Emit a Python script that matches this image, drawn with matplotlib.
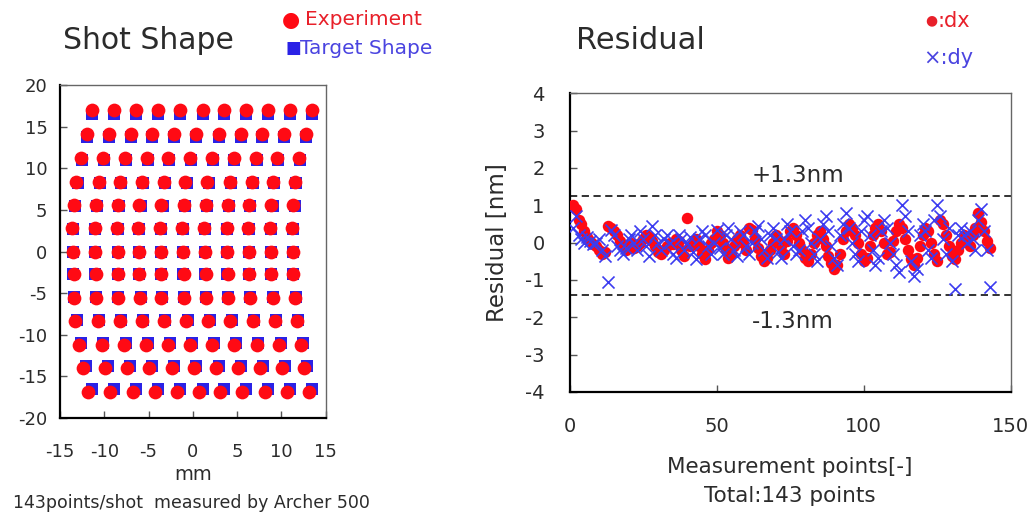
import numpy as np
import matplotlib
matplotlib.use("Agg")
import matplotlib.pyplot as plt

plt.rcParams['font.family'] = ['DejaVu Sans']
plt.rcParams['axes.unicode_minus'] = False

# target grid: 13 rows x 11 columns (mm)
row_y = [16.5, 13.75, 11.0, 8.25, 5.5, 2.75, 0.0, -2.75, -5.5, -8.25, -11.0, -13.75, -16.5]
target_x = [
    [-11.4, -8.9, -6.4, -3.9, -1.4, 1.1, 3.5, 6.0, 8.5, 11.0, 13.5],
    [-12.0, -9.5, -7.0, -4.6, -2.1, 0.4, 2.9, 5.4, 7.8, 10.3, 12.8],
    [-12.5, -10.0, -7.6, -5.1, -2.7, -0.2, 2.3, 4.7, 7.2, 9.6, 12.1],
    [-13.0, -10.5, -8.1, -5.6, -3.1, -0.7, 1.8, 4.3, 6.8, 9.2, 11.7],
    [-13.3, -10.8, -8.3, -5.9, -3.4, -0.9, 1.6, 4.1, 6.5, 9.0, 11.5],
    [-13.5, -11.0, -8.5, -6.1, -3.6, -1.1, 1.4, 3.9, 6.3, 8.8, 11.3],
    [-13.5, -11.0, -8.5, -6.1, -3.6, -1.1, 1.4, 3.9, 6.3, 8.8, 11.3],
    [-13.5, -11.0, -8.5, -6.1, -3.6, -1.1, 1.4, 3.9, 6.3, 8.8, 11.3],
    [-13.4, -10.9, -8.4, -5.9, -3.5, -1.0, 1.5, 4.0, 6.5, 9.1, 11.6],
    [-13.1, -10.6, -8.1, -5.6, -3.1, -0.6, 1.9, 4.4, 6.9, 9.4, 11.9],
    [-12.6, -10.1, -7.6, -5.1, -2.6, -0.1, 2.4, 4.9, 7.4, 9.9, 12.4],
    [-12.1, -9.6, -7.1, -4.6, -2.1, 0.4, 2.9, 5.4, 7.9, 10.4, 12.9],
    [-11.4, -8.9, -6.4, -3.9, -1.4, 1.1, 3.5, 6.0, 8.5, 11.0, 13.5],
]
# measured shot offset from target per row (exaggerated, mm)
exp_off_x = [0.0, 0.0, -0.1, -0.15, -0.15, -0.1, 0.0, 0.05, -0.05, -0.15, -0.2, -0.3, -0.4]
exp_off_y = [0.45, 0.35, 0.2, 0.15, 0.1, 0.05, 0.0, 0.0, -0.05, -0.1, -0.2, -0.25, -0.35]

# residuals (nm), points 1..143
dx = [1.0, 0.9, 0.6, 0.5, 0.3, 0.15, 0.05, -0.05, -0.1, -0.2, -0.3,
      -0.25, 0.45, 0.4, 0.3, 0.2, 0.05, -0.1, -0.2, -0.1, 0.0, -0.15,
      -0.1, 0.0, 0.1, 0.2, 0.15, 0.05, -0.1, -0.25, -0.3, -0.2, -0.1,
      0.0, -0.05, 0.1, 0.05, -0.2, -0.35, 0.65, -0.1, 0.0, 0.1, -0.1,
      -0.3, -0.45, -0.2, 0.0, 0.1, 0.3, 0.2, 0.0, -0.2, -0.4, -0.3,
      -0.1, 0.1, 0.2, 0.0, -0.2, 0.4, 0.35, 0.1, -0.15, -0.35, -0.5,
      -0.4, -0.2, 0.0, 0.2, 0.1, -0.1, -0.3, 0.05, 0.3, 0.4, 0.2,
      0.0, -0.2, -0.4, -0.5, -0.3, 0.0, 0.2, 0.3, 0.1, -0.1, -0.35,
      -0.55, -0.7, -0.6, -0.3, 0.1, 0.3, 0.5, 0.4, 0.2, 0.0, -0.3,
      -0.5, -0.4, -0.1, 0.2, 0.4, 0.5, 0.3, 0.0, -0.3, -0.25, 0.05,
      0.3, 0.5, 0.4, 0.1, -0.2, -0.45, -0.6, -0.4, -0.1, 0.2, 0.4,
      0.3, 0.0, -0.3, -0.5, 0.6, 0.5, 0.2, -0.1, -0.35, -0.45, -0.2,
      0.0, 0.2, 0.1, -0.1, 0.2, 0.4, 0.8, 0.55, 0.3, 0.05, -0.15]
dy = [0.4, 0.7, 0.2, 0.1, 0.0, 0.15, 0.05, -0.05, 0.0, 0.1, -0.2,
      -0.35, -1.05, 0.35, 0.2, -0.1, -0.2, -0.3, -0.15, 0.1, 0.2, 0.0,
      -0.2, 0.3, 0.1, -0.1, -0.35, 0.45, 0.2, 0.0, -0.2, 0.1, 0.2,
      0.0, -0.3, -0.4, 0.2, 0.1, -0.2, 0.0, 0.15, -0.25, -0.45, 0.1,
      0.3, 0.2, -0.1, -0.3, 0.0, 0.35, -0.15, -0.3, 0.2, 0.4, 0.1,
      -0.2, -0.35, 0.3, 0.2, -0.1, -0.3, 0.0, 0.3, 0.45, 0.1, -0.2,
      -0.4, 0.2, 0.4, 0.1, -0.25, -0.4, 0.1, 0.5, 0.3, -0.1, -0.3,
      -0.2, 0.3, 0.6, 0.4, 0.0, -0.3, -0.5, 0.1, 0.5, 0.7, 0.3,
      -0.1, -0.4, -0.6, 0.2, 0.5, 0.8, 0.4, 0.0, -0.3, -0.5, 0.3,
      0.6, 0.7, 0.2, -0.2, -0.6, -0.4, 0.3, 0.6, 0.4, 0.0, -0.3,
      -0.6, -0.8, 1.0, 0.7, 0.3, -0.5, -0.9, -0.7, 0.2, 0.5, 0.3,
      -0.2, -0.4, 0.6, 1.0, 0.7, 0.1, -0.3, 0.4, -0.5, -1.25, 0.2,
      0.4, 0.2, 0.0, 0.3, 0.1, -0.2, 0.6, 0.9, 0.3, -0.2, -1.2]
upper_limit = 1.25
lower_limit = -1.4

RED = '#ff0a14'
BLUE = '#2a22e6'
TXT = '#2b2b2b'

fig = plt.figure(figsize=(10.34, 5.17), dpi=100)

def style_axes(ax):
    ax.spines['left'].set_linewidth(1.6)
    ax.spines['bottom'].set_linewidth(1.6)
    for s in ['top', 'right']:
        ax.spines[s].set_color('#666666')
        ax.spines[s].set_linewidth(1.0)
    ax.tick_params(direction='in', length=5, width=1, colors='#555555',
                   labelcolor=TXT, labelsize=13, pad=10)

# ---- Shot Shape ----
ax1 = fig.add_axes([0.058, 0.1915, 0.257, 0.644])
tx = np.array(target_x)
ty = np.repeat(np.array(row_y)[:, None], 11, axis=1)
ex = tx + np.array(exp_off_x)[:, None]
ey = ty + np.array(exp_off_y)[:, None]
ax1.scatter(tx.ravel(), ty.ravel(), marker='s', s=80, color=BLUE, lw=0, zorder=2)
ax1.scatter(ex.ravel(), ey.ravel(), marker='o', s=98, color=RED, lw=0, zorder=3)
ax1.set_xlim(-15, 15)
ax1.set_ylim(-20, 20)
ax1.set_xticks(range(-15, 16, 5))
ax1.set_yticks(range(-20, 21, 5))
style_axes(ax1)
ax1.tick_params(axis='x', pad=18)
ax1.tick_params(axis='y', pad=9)
ax1.set_xlabel('mm', fontsize=14, color=TXT, labelpad=3)

fig.text(0.061, 0.922, 'Shot Shape', fontsize=21.5, color=TXT, va='center')
fig.text(0.273, 0.962, '●', fontsize=15, color=RED, va='center')
fig.text(0.295, 0.962, 'Experiment', fontsize=14.5, color='#e8202a', va='center')
fig.text(0.276, 0.907, '■', fontsize=12, color=BLUE, va='center')
fig.text(0.29, 0.907, 'Target Shape', fontsize=14.5, color='#4a44e0', va='center')
fig.text(0.013, 0.027, '143points/shot  measured by Archer 500', fontsize=12.5,
         color=TXT, va='center')

# ---- Residual ----
ax2 = fig.add_axes([0.551, 0.2418, 0.4265, 0.578])
pts = np.arange(1, len(dx) + 1)
ax2.scatter(pts, dx, marker='o', s=68, color=RED, lw=0, zorder=3)
ax2.scatter(pts, dy, marker='x', s=75, color='#3c3cf0', lw=1.2, zorder=4)
ax2.axhline(upper_limit, color='#222222', ls=(0, (4, 2.5)), lw=1.3, zorder=2)
ax2.axhline(lower_limit, color='#222222', ls=(0, (4, 2.5)), lw=1.3, zorder=2)
ax2.text(62, upper_limit + 0.55, '+1.3nm', fontsize=16.5, color=TXT, va='center')
ax2.text(62, lower_limit - 0.7, '-1.3nm', fontsize=16.5, color=TXT, va='center')
ax2.set_xlim(0, 150)
ax2.set_ylim(-4, 4)
ax2.set_xticks([0, 50, 100, 150])
ax2.set_yticks(range(-4, 5))
style_axes(ax2)
ax2.tick_params(labelsize=14)
ax2.tick_params(axis='x', pad=18)
ax2.tick_params(axis='y', pad=18)
ax2.set_ylabel('Residual [nm]', fontsize=16.5, color=TXT, labelpad=12)
ax2.set_xlabel('Measurement points[-]\nTotal:143 points', fontsize=15.5,
               color=TXT, labelpad=15, linespacing=1.6)

fig.text(0.557, 0.922, 'Residual', fontsize=22, color=TXT, va='center')
fig.text(0.895, 0.96, '●', fontsize=10, color='#e8202a', va='center')
fig.text(0.907, 0.96, ':dx', fontsize=15, color='#e8202a', va='center')
fig.text(0.893, 0.887, '×:dy', fontsize=15, color='#4a44e0', va='center')

fig.savefig('out.png', dpi=100, facecolor='white')
